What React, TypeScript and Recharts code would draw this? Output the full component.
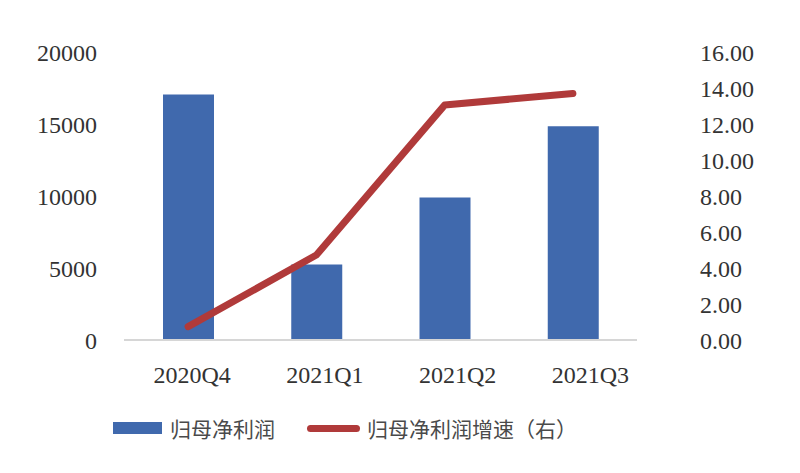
import { type ReactElement } from 'react';
import { ComposedChart, Bar, Line, XAxis, YAxis } from 'recharts';

const quarters = ['2020Q4', '2021Q1', '2021Q2', '2021Q3'];
const netProfit = [17050, 5250, 9900, 14850];
const growthRate = [0.74, 4.72, 13.05, 13.7];
const leftTicks = [0, 5000, 10000, 15000, 20000];
const rightTicks = [0, 2, 4, 6, 8, 10, 12, 14, 16];

const data = quarters.map((q, i) => ({
  quarter: q,
  profit: netProfit[i],
  growth: growthRate[i],
}));

const BAR_COLOR = '#4069AD';
const LINE_COLOR = '#B03A3A';
const TEXT_COLOR = '#333333';
const serif = '"Liberation Serif", "Times New Roman", serif';
const tickFont = { fontFamily: serif, fontSize: 24, fill: TEXT_COLOR };
const cjkFont = '"Noto Sans CJK SC", sans-serif';

// the original labels drift a little to the right of the bars
const QuarterTick = (props: any) => {
  const { x, y, payload, index } = props;
  return (
    <text
      x={x + 4 + index * 4.5}
      y={y}
      dy="0.71em"
      textAnchor="middle"
      fontFamily={serif}
      fontSize={24}
      fill={TEXT_COLOR}
    >
      {payload.value}
    </text>
  );
};

export default function App(): ReactElement {
  return (
    <div style={{ position: 'absolute', left: 0, top: 0, width: 800, height: 473, background: '#fff' }}>
      <ComposedChart width={800} height={473} data={data} margin={{ top: 52, right: 0, bottom: 73, left: 0 }}>
        <XAxis
          dataKey="quarter"
          tickLine={false}
          axisLine={{ stroke: '#D6D6D6', strokeWidth: 2 }}
          tickSize={0}
          tickMargin={26}
          height={60}
          tick={<QuarterTick />}
          interval={0}
        />
        <YAxis
          yAxisId="left"
          domain={[0, 20000]}
          ticks={leftTicks}
          tickLine={false}
          axisLine={false}
          tickSize={0}
          tickMargin={27}
          width={124}
          tick={tickFont}
        />
        <YAxis
          yAxisId="right"
          orientation="right"
          domain={[0, 16]}
          ticks={rightTicks}
          tickFormatter={(v: number) => v.toFixed(2)}
          tickLine={false}
          axisLine={false}
          tickSize={0}
          tickMargin={63}
          width={163}
          tick={tickFont}
        />
        <Bar yAxisId="left" dataKey="profit" fill={BAR_COLOR} barSize={51} isAnimationActive={false} />
        <Line
          yAxisId="right"
          type="linear"
          dataKey="growth"
          stroke={LINE_COLOR}
          strokeWidth={7}
          strokeLinecap="round"
          strokeLinejoin="round"
          dot={false}
          activeDot={false}
          isAnimationActive={false}
        />
      </ComposedChart>
      <div style={{ position: 'absolute', left: 113, top: 413, display: 'flex', alignItems: 'center', fontFamily: cjkFont, fontSize: 21, color: '#4a4a4a', whiteSpace: 'nowrap' }}>
        <span style={{ display: 'inline-block', width: 49, height: 12, background: BAR_COLOR, marginRight: 8 }} />
        <span>归母净利润</span>
        <span style={{ display: 'inline-block', width: 53, height: 7, borderRadius: 4, background: LINE_COLOR, marginLeft: 32, marginRight: 7 }} />
        <span>归母净利润增速（右）</span>
      </div>
    </div>
  );
}
